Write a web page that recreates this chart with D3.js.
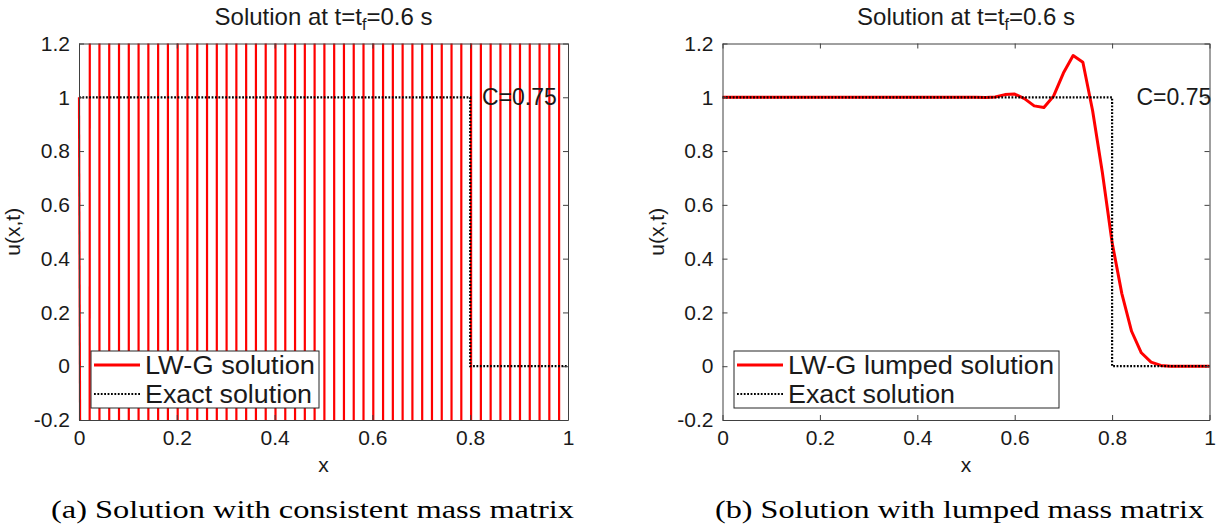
<!DOCTYPE html>
<html><head><meta charset="utf-8">
<script src="https://cdn.jsdelivr.net/npm/d3@7"></script>
<style>
body{margin:0;background:#fff}
svg{display:block}
</style>
</head><body>
<svg id="chart" width="1220" height="530"></svg>
<script>
// ---------------- data ----------------
const nodesX = [0,0.02,0.04,0.06,0.08,0.10,0.12,0.14,0.16,0.18,0.20,0.22,0.24,0.26,0.28,0.30,0.32,0.34,0.36,0.38,0.40,0.42,0.44,0.46,0.48,0.50,0.52,0.54,0.56,0.58,0.60,0.62,0.64,0.66,0.68,0.70,0.72,0.74,0.76,0.78,0.80,0.82,0.84,0.86,0.88,0.90,0.92,0.94,0.96,0.98,1.00];
// consistent mass matrix: unstable, node values alternate in sign and blow up
const consistentU = [1,-1e1,1e2,-1e3,1e4,-1e5,1e6,-1e7,1e8,-1e9,1e10,-1e11,1e12,-1e13,1e14,-1e15,1e16,-1e17,1e18,-1e19,1e20,-1e21,1e22,-1e23,1e24,-1e25,1e26,-1e27,1e28,-1e29,1e30,-1e31,1e32,-1e33,1e34,-1e35,1e36,-1e37,1e38,-1e39,1e40,-1e41,1e42,-1e43,1e44,-1e45,1e46,-1e47,1e48,-1e49,1e50];
const lumpedU = [1,1,1,1,1,1,1,1,1,1,1,1,1,1,1,1,1,1,1,1,1,1,1,1,1,1,1,0.999,1.001,1.010,1.012,0.995,0.968,0.962,1.005,1.09,1.155,1.13,0.95,0.72,0.46,0.27,0.13,0.05,0.015,0.003,0,0,0,0,0];
const exactX = [0,0.8,0.8,1];
const exactU = [1,1,0,0];
const xTicks = [0,0.2,0.4,0.6,0.8,1];
const xTickLabels = ["0","0.2","0.4","0.6","0.8","1"];
const yTicks = [-0.2,0,0.2,0.4,0.6,0.8,1,1.2];
const yTickLabels = ["-0.2","0","0.2","0.4","0.6","0.8","1","1.2"];
const titleParts = ["Solution at t=t","f","=0.6 s"];
const courantText = "C=0.75";
const courantPosA = [0.824, 1];
const courantPosB = [0.85, 1];
const xLabel = "x", yLabel = "u(x,t)";
const legendA = ["LW-G solution","Exact solution"];
const legendB = ["LW-G lumped solution","Exact solution"];
const captions = ["(a) Solution with consistent mass matrix","(b) Solution with lumped mass matrix"];

// ---------------- drawing ----------------
const svg = d3.select("#chart");
const RED = "#ff0000", AX = "#404040";
const SANS = "'Liberation Sans', Arial, Helvetica, sans-serif";
const SERIF = "'Liberation Serif', 'Times New Roman', serif";
const yDomain = [-0.2, 1.2];

// clip each segment of a polyline to the y-domain (data space)
function clipPolyline(xs, us, lo, hi) {
  const pieces = [];
  const cross = (x0,u0,x1,u1,b) => x0 + (b - u0) / (u1 - u0) * (x1 - x0);
  for (let i = 0; i < xs.length - 1; i++) {
    const x0 = xs[i], x1 = xs[i+1], u0 = us[i], u1 = us[i+1];
    if ((u0 > hi && u1 > hi) || (u0 < lo && u1 < lo)) continue;
    let p0, p1;
    if (u0 >= lo && u0 <= hi) p0 = [x0, u0];
    else { const b = u0 > hi ? hi : lo; p0 = [cross(x0,u0,x1,u1,b), b]; }
    if (u1 >= lo && u1 <= hi) p1 = [x1, u1];
    else { const b = u1 > hi ? hi : lo; p1 = [cross(x0,u0,x1,u1,b), b]; }
    pieces.push([p0, p1]);
  }
  return pieces;
}

function panel(cfg) {
  const x = d3.scaleLinear().domain([0,1]).range([cfg.left, cfg.right]);
  const y = d3.scaleLinear().domain(yDomain).range([cfg.bottom, cfg.top]);
  const g = svg.append("g");
  const line = d3.line().x(d => x(d[0])).y(d => y(d[1]));

  // solution line
  if (cfg.clipped) {
    const pieces = clipPolyline(nodesX, cfg.u, yDomain[0], yDomain[1]);
    g.selectAll("path.sol").data(pieces).join("path").attr("class","sol")
      .attr("d", line).attr("fill","none").attr("stroke",RED).attr("stroke-width",2.2);
  } else {
    g.append("path").datum(nodesX.map((v,i)=>[v,cfg.u[i]])).attr("d", line)
      .attr("fill","none").attr("stroke",RED).attr("stroke-width",3).attr("stroke-linejoin","round");
  }
  // exact solution
  g.append("path").datum(exactX.map((v,i)=>[v,exactU[i]])).attr("d", line)
    .attr("fill","none").attr("stroke","#000").attr("stroke-width",2.2).attr("stroke-dasharray","1.8,1.6");

  // axes
  const fmtX = d => xTickLabels[xTicks.indexOf(d)];
  const fmtY = d => yTickLabels[yTicks.indexOf(d)];
  const styleAxis = sel => {
    sel.selectAll("path.domain").attr("stroke", AX);
    sel.selectAll(".tick line").attr("stroke", AX);
    sel.selectAll("text").style("font-size","21px").style("font-family",SANS).style("fill","#1a1a1a");
  };
  g.append("g").attr("transform",`translate(0,${cfg.bottom})`)
    .call(d3.axisBottom(x).tickValues(xTicks).tickFormat(fmtX).tickSizeInner(-5).tickSizeOuter(0).tickPadding(10)).call(styleAxis);
  g.append("g").attr("transform",`translate(0,${cfg.top})`)
    .call(d3.axisTop(x).tickValues(xTicks).tickFormat("").tickSizeInner(-5).tickSizeOuter(0)).call(styleAxis);
  g.append("g").attr("transform",`translate(${cfg.left},0)`)
    .call(d3.axisLeft(y).tickValues(yTicks).tickFormat(fmtY).tickSizeInner(-5).tickSizeOuter(0).tickPadding(9)).call(styleAxis);
  g.append("g").attr("transform",`translate(${cfg.right},0)`)
    .call(d3.axisRight(y).tickValues(yTicks).tickFormat("").tickSizeInner(-5).tickSizeOuter(0)).call(styleAxis);

  const txt = (sel, size, fam) => sel.style("font-size", size + "px").style("font-family", fam || SANS).style("fill", "#1a1a1a");

  // C label
  g.append("text").attr("x", x(cfg.cpos[0])).attr("y", y(cfg.cpos[1]) + 8)
    .call(txt, 23).text(courantText);

  // title
  const t = g.append("text").attr("x",(cfg.left+cfg.right)/2).attr("y",25)
    .attr("text-anchor","middle").call(txt, 24);
  t.append("tspan").text(titleParts[0]);
  t.append("tspan").style("font-size","16px").attr("dy",5).text(titleParts[1]);
  t.append("tspan").attr("dy",-5).text(titleParts[2]);

  // axis labels
  g.append("text").attr("x",(cfg.left+cfg.right)/2).attr("y",472).attr("text-anchor","middle")
    .call(txt, 21).text(xLabel);
  g.append("text").attr("transform",`translate(${cfg.left-59},${(cfg.top+cfg.bottom)/2}) rotate(-90)`)
    .attr("text-anchor","middle").call(txt, 21).text(yLabel);

  // legend
  const L = cfg.legend;
  const lg = g.append("g");
  lg.append("rect").attr("x",L.x).attr("y",L.y).attr("width",L.w).attr("height",L.h)
    .attr("fill","#fff").attr("stroke","#262626").attr("stroke-width",1);
  const rows = [L.y + 14, L.y + 43];
  lg.append("line").attr("x1",L.x+3).attr("x2",L.x+49).attr("y1",rows[0]).attr("y2",rows[0])
    .attr("stroke",RED).attr("stroke-width",3);
  lg.append("line").attr("x1",L.x+3).attr("x2",L.x+49).attr("y1",rows[1]).attr("y2",rows[1])
    .attr("stroke","#000").attr("stroke-width",2.2).attr("stroke-dasharray","1.8,1.6");
  L.labels.forEach((s,i) => lg.append("text").attr("x",L.x+54).attr("y",rows[i]+8.5)
    .call(txt, 25).attr("textLength", L.tw[i]).attr("lengthAdjust","spacingAndGlyphs").text(s));

  // caption
  svg.append("text").attr("x",cfg.capX).attr("y",518).call(txt, 26, SERIF).style("fill","#000")
    .attr("textLength",cfg.capW).attr("lengthAdjust","spacingAndGlyphs").text(cfg.caption);
}

panel({left:79, right:568, top:43.5, bottom:420, u:consistentU, clipped:true, cpos:courantPosA,
  legend:{x:91,y:351,w:228,h:57,labels:legendA,tw:[170,167]}, caption:captions[0], capX:51, capW:523});
panel({left:722.5, right:1209.5, top:43.5, bottom:420, u:lumpedU, clipped:false, cpos:courantPosB,
  legend:{x:734,y:351,w:325,h:57,labels:legendB,tw:[266,167]}, caption:captions[1], capX:715, capW:489});
</script>
</body></html>
